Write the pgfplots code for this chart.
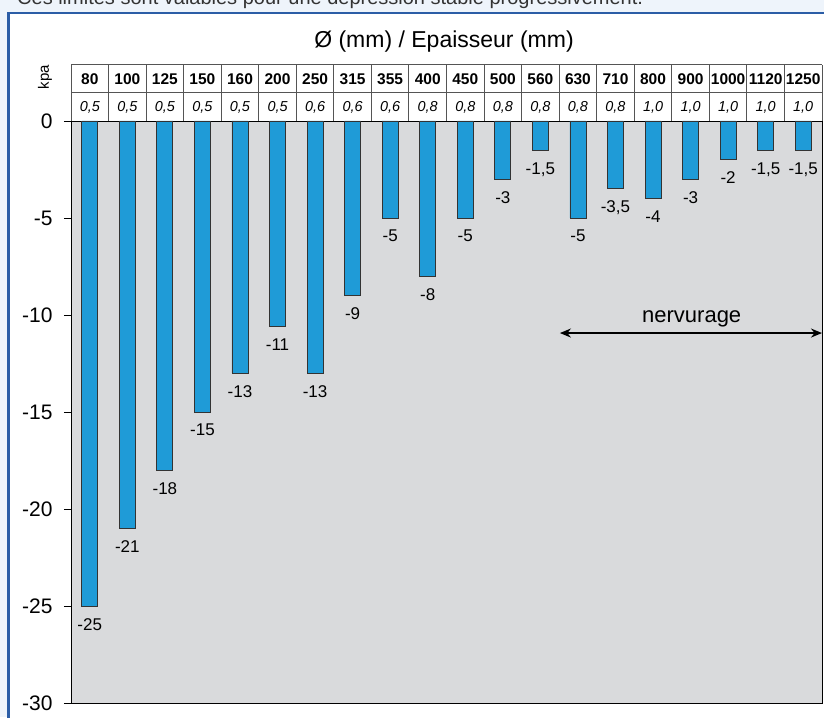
\documentclass[border=0pt]{standalone}
\usepackage{fontspec}
\setmainfont{Liberation Sans}
\usepackage{pgfplots}
\pgfplotsset{compat=1.18}
\usepackage{pgfplotstable}
\usetikzlibrary{arrows.meta}

\definecolor{pagebg}{HTML}{EEF4FB}
\definecolor{frameblue}{HTML}{2B5DA6}
\definecolor{plotgray}{HTML}{D9DADC}
\definecolor{barblue}{HTML}{1F9BD7}
\definecolor{cellline}{HTML}{555555}

% diametre (index), depression (kPa), etiquette
\pgfplotstableread{
x y lbl
0 -25 -25
1 -21 -21
2 -18 -18
3 -15 -15
4 -13 -13
5 -10.6 -11
6 -13 -13
7 -9 -9
8 -5 -5
9 -8 -8
10 -5 -5
11 -3 -3
12 -1.5 -1,5
13 -5 -5
14 -3.5 -3,5
15 -4 -4
16 -3 -3
17 -2 -2
18 -1.5 -1,5
19 -1.5 -1,5
}\limites

\begin{document}
\begin{tikzpicture}[x=1pt,y=1pt]
\useasboundingbox (0,0) rectangle (824,717);
\clip (0,0) rectangle (824,717);
\fill[pagebg] (0,0) rectangle (824,717);
\node[anchor=base west, font=\fontsize{20}{24}\selectfont, text=black!80, inner sep=0pt]
  at (17,712) {Ces limites sont valables pour une dépression stable progressivement.};
\draw[frameblue, line width=2.5pt, fill=white] (8.5,704) rectangle (850,-20);
\node[anchor=base, font=\fontsize{23}{27}\selectfont, inner sep=0pt] at (444,669) {Ø (mm) / Epaisseur (mm)};
\node[rotate=90, font=\fontsize{15}{18}\selectfont, inner sep=0pt] at (45pt,640pt) {kpa};

\begin{axis}[
  at={(71pt,14pt)}, anchor=south west,
  width=751pt, height=582pt, scale only axis,
  xmin=-0.5, xmax=19.5, ymin=-30, ymax=0,
  clip=false,
  axis background/.style={fill=plotgray},
  axis line style={black, line width=0.8pt},
  ybar, bar width=16pt,
  ytick={-30,-25,-20,-15,-10,-5,0},
  yticklabels={-30,-25,-20,-15,-10,-5,0},
  ytick pos=left,
  tick align=outside, major tick length=7pt,
  ytick style={black, line width=0.7pt},
  yticklabel style={font=\fontsize{21}{24}\selectfont, xshift=-8pt},
  xtick={0,...,19},
  xticklabels={80,100,125,150,160,200,250,315,355,400,450,500,560,630,710,800,900,1000,1120,1250},
  xticklabel pos=upper,
  x tick style={draw=none},
  xticklabel style={font=\fontsize{15.5}{18}\selectfont\bfseries, anchor=base, yshift=29.5pt},
  extra x ticks={0,...,19},
  extra x tick labels={{0,5},{0,5},{0,5},{0,5},{0,5},{0,5},{0,6},{0,6},{0,6},{0,8},{0,8},{0,8},{0,8},{0,8},{0,8},{1,0},{1,0},{1,0},{1,0},{1,0}},
  extra x tick style={xticklabel style={font=\fontsize{14.4}{17}\selectfont\itshape, yshift=-27.5pt}},
  nodes near coords, point meta=explicit symbolic,
  nodes near coords style={font=\fontsize{17}{20}\selectfont, anchor=north, yshift=-8.5pt, text=black},
]
\addplot[fill=barblue, draw=black!80, line width=0.8pt] table[x=x, y=y, meta=lbl] {\limites};

% grille du tableau au-dessus du graphique
\pgfplotsinvokeforeach{-0.5,0.5,...,19.5}{
  \draw[cellline, line width=1pt] (axis cs:#1,0) -- ([yshift=56pt]axis cs:#1,0);
}
\draw[cellline, line width=1pt] ([yshift=28pt]rel axis cs:0,1) -- ([yshift=28pt]rel axis cs:1,1);
\draw[cellline, line width=1pt] ([yshift=56pt]rel axis cs:0,1) -- ([yshift=56pt]rel axis cs:1,1);

\draw[{Stealth[length=11pt,width=9pt]}-{Stealth[length=11pt,width=9pt]}, line width=1.6pt]
  (axis cs:12.52,-10.93) -- (axis cs:19.5,-10.93);
\node[anchor=base, font=\fontsize{22}{26}\selectfont, inner sep=0pt] at (axis cs:16.03,-10.38) {nervurage};
\end{axis}
\end{tikzpicture}
\end{document}
